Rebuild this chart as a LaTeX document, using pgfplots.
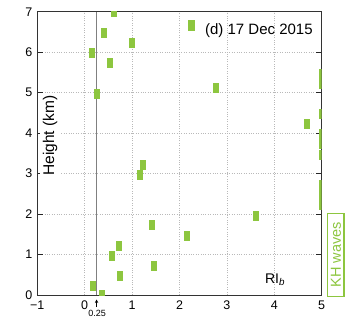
\documentclass[border=0pt]{standalone}
\usepackage{fontspec}
\setmainfont{Liberation Sans}
\usepackage{pgfplots}
\pgfplotsset{compat=1.18}
\usetikzlibrary{arrows.meta}
\definecolor{kgreen}{RGB}{141,198,63}
\pgfdeclareplotmark{rbar}{\pgfpathrectangle{\pgfqpoint{-3pt}{-5pt}}{\pgfqpoint{6pt}{10pt}}\pgfusepathqfill}
\pgfplotsset{layers/mine/.define layer set={axis background,axis grid,pre main,main,axis ticks,axis lines,axis tick labels,axis descriptions,axis foreground}{}}
\begin{document}
\begin{tikzpicture}
\begin{axis}[
 set layers=mine,
 scale only axis, width=284.4pt, height=283.2pt,
 xmin=-1, xmax=5, ymin=0, ymax=7,
 xtick={-1,0,1,2,3,4,5}, xticklabels={−1,0,1,2,3,4,5},
 ytick={0,1,2,3,4,5,6,7},
 tick align=inside,
 major tick length=6pt,
 x tick style={draw=none},
 y tick style={black!85, line width=0.8pt},
 grid=major,
 major grid style={gray!55, line width=0.8pt, dash pattern=on 1pt off 1.4pt},
 axis line style={black!80, line width=0.8pt},
 tick label style={font=\fontsize{12.5pt}{14pt}\selectfont},
 /pgf/number format/assume math mode=true,
 xticklabel shift=2.5pt, yticklabel shift=1.4pt,
 clip marker paths=true,
 legend style={at={(rel axis cs:0.969,0.971)}, anchor=north east, draw=none, fill=none, inner sep=0pt,
   font=\fontsize{15pt}{17pt}\selectfont, nodes={inner sep=0pt},
   /tikz/every odd column/.append style={column sep=11pt}},
 legend image code/.code={\fill[kgreen] (0pt,-0.5pt) rectangle (6pt,9.5pt);},
]
\addplot[gray, line width=1.2pt, forget plot] coordinates {(0.25,0) (0.25,7)};
\addplot[only marks, mark=rbar, color=kgreen, mark options={fill=kgreen, draw=none}] coordinates {
 (0.62,6.99) (0.40,6.48) (0.99,6.23) (0.15,5.98) (0.53,5.73) (0.25,4.97)
 (2.76,5.12) (4.70,4.22) (1.24,3.22) (1.16,2.97) (3.61,1.96) (2.16,1.47)
 (1.43,1.72) (0.72,1.22) (0.58,0.97) (1.46,0.72) (0.74,0.47) (0.18,0.22) (0.36,0.0)
 (5,5.46) (5,5.22) (5,4.47) (5,3.97) (5,3.72) (5,3.47) (5,2.72) (5,2.47) (5,2.22)
};
\addlegendentry{(d) 17 Dec 2015}
\node[rotate=90, fill=white, inner sep=3pt, font=\fontsize{15.5pt}{17pt}\selectfont] at (axis cs:-0.73,3.94) {Height (km)};
\node[anchor=base west, inner sep=0pt, font=\fontsize{14pt}{16pt}\selectfont] at (axis cs:3.80,0.29) {RI\textsubscript{\textit{b}}};
\coordinate (sw) at (rel axis cs:0,0);
\coordinate (ne) at (rel axis cs:1,1);
\coordinate (br) at (axis cs:5,0);
\coordinate (tr) at (axis cs:5,2.02);
\coordinate (khmid) at (axis cs:5,0.99);
\coordinate (a25) at (axis cs:0.25,0);
\end{axis}
\draw[kgreen, line width=1.2pt] ([xshift=6pt]tr) rectangle ([xshift=22.3pt,yshift=-1.5pt]br);
\node[kgreen, rotate=90, inner sep=0pt, font=\fontsize{14.5pt}{16pt}\selectfont] at ([xshift=14.2pt]khmid) {KH waves};
\draw[-{Stealth[length=3.5pt,width=3.5pt]}, line width=0.6pt] ([yshift=-12pt]a25) -- ([yshift=-4.5pt]a25);
\node[inner sep=0pt, font=\fontsize{9pt}{10pt}\selectfont] at ([xshift=0.5pt,yshift=-18.5pt]a25) {0.25};
\pgfresetboundingbox
\path ([shift={(-37.3pt,-31pt)}]sw) rectangle ([shift={(25.3pt,11.8pt)}]ne);
\end{tikzpicture}
\end{document}
